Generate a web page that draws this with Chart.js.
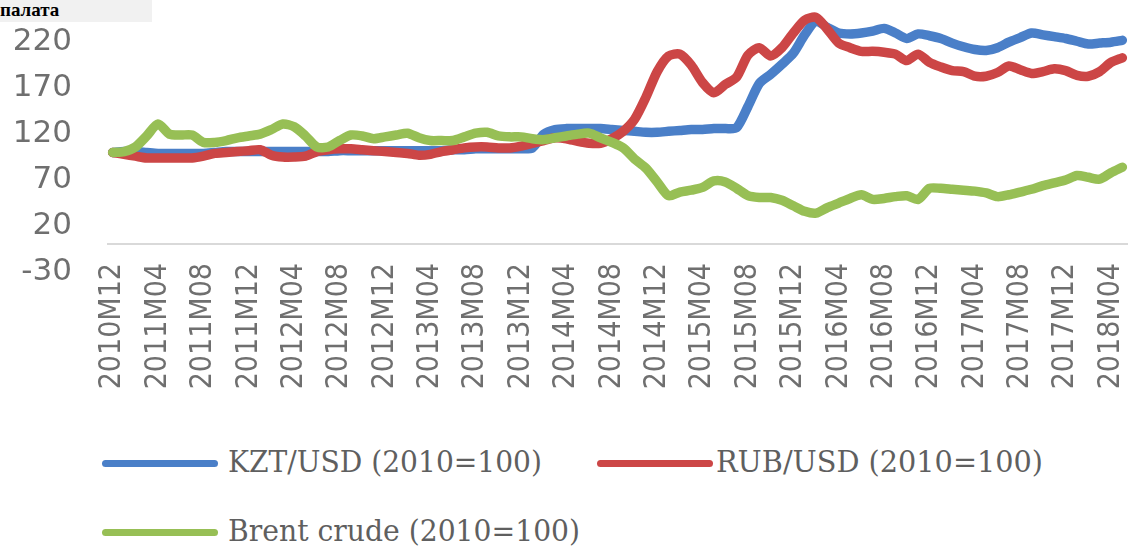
<!DOCTYPE html>
<html><head><meta charset="utf-8">
<script src="https://cdn.jsdelivr.net/npm/chart.js@4.4.0/dist/chart.umd.min.js"></script>
<style>
html,body{margin:0;padding:0;background:#fff;}
#wrap{position:relative;width:1128px;height:551px;overflow:hidden;background:#fff;}
#c{position:absolute;left:0;top:0;}
#hdr{position:absolute;left:0;top:0;width:152px;height:22px;background:#f1f1f1;font:bold 19px "Liberation Serif",serif;line-height:19px;color:#000;white-space:nowrap;overflow:hidden;}
.ln{position:absolute;height:7px;border-radius:4px;}
.tx{position:absolute;font:30px "DejaVu Serif Condensed","DejaVu Serif",serif;color:#5f5f5f;white-space:nowrap;transform-origin:0 50%;line-height:32px;}
</style></head>
<body>
<div id="wrap">
<canvas id="c" width="1128" height="420"></canvas>
<div id="hdr">палата</div>
<div id="legend"></div>
</div>
<script>
const categories = [
 "2010M12",
 "2011M01","2011M02","2011M03","2011M04","2011M05","2011M06","2011M07","2011M08","2011M09","2011M10","2011M11","2011M12",
 "2012M01","2012M02","2012M03","2012M04","2012M05","2012M06","2012M07","2012M08","2012M09","2012M10","2012M11","2012M12",
 "2013M01","2013M02","2013M03","2013M04","2013M05","2013M06","2013M07","2013M08","2013M09","2013M10","2013M11","2013M12",
 "2014M01","2014M02","2014M03","2014M04","2014M05","2014M06","2014M07","2014M08","2014M09","2014M10","2014M11","2014M12",
 "2015M01","2015M02","2015M03","2015M04","2015M05","2015M06","2015M07","2015M08","2015M09","2015M10","2015M11","2015M12",
 "2016M01","2016M02","2016M03","2016M04","2016M05","2016M06","2016M07","2016M08","2016M09","2016M10","2016M11","2016M12",
 "2017M01","2017M02","2017M03","2017M04","2017M05","2017M06","2017M07","2017M08","2017M09","2017M10","2017M11","2017M12",
 "2018M01","2018M02","2018M03","2018M04","2018M05"
];
const shownLabels = ["2010M12","2011M04","2011M08","2011M12","2012M04","2012M08","2012M12","2013M04","2013M08","2013M12",
 "2014M04","2014M08","2014M12","2015M04","2015M08","2015M12","2016M04","2016M08","2016M12","2017M04","2017M08","2017M12","2018M04"];
const yTicks = [-30, 20, 70, 120, 170, 220];

const kzt = [
 100,101,101,100,99,99,99,99,99,100,
 101,101,101,101,101,101,101,101,101,101,
 102,102,102,102,102,102,102,102,102,102,
 103,103,104,104,104,104,104,105,120,125,
 126,126,126,126,125,124,123,122,122,123,
 124,125,125,126,126,127,150,175,185,196,
 208,228,243,236,230,229,230,232,235,230,
 224,229,227,224,219,215,212,211,214,220,
 225,230,228,226,224,221,218,219,220,222
];
const rub = [
 100,98,96,94,94,94,94,94,96,99,
 100,101,102,103,97,95,95,96,101,103,
 104,104,103,102,101,100,99,97,98,101,
 103,105,106,106,105,105,107,110,113,116,
 115,112,110,110,115,123,136,160,188,205,
 207,195,176,165,174,182,206,214,205,214,
 230,244,247,234,219,214,210,210,209,207,
 200,207,198,193,189,188,183,183,187,194,
 190,186,188,191,189,184,183,188,198,203
];
const brent = [
 100,101,106,118,131,120,119,119,111,111,
 113,116,118,120,125,131,128,118,106,106,
 113,119,118,115,117,119,121,116,113,113,
 113,117,121,122,118,117,117,115,114,116,
 118,120,121,116,111,105,93,83,68,53,
 57,59,62,69,68,61,53,51,51,48,
 42,36,34,40,45,50,54,49,50,52,
 53,49,61,61,60,59,58,56,52,54,
 57,60,64,67,70,75,73,71,78,84
];
const seriesNames = ["KZT/USD (2010=100)", "RUB/USD (2010=100)", "Brent crude (2010=100)"];
const seriesColors = ["#4a7fc8", "#cc4646", "#97bf55"];

const mk = (label, data, color, order) => ({
  label, data, borderColor: color, backgroundColor: color, borderWidth: 9.5,
  pointRadius: 0, tension: 0.25, fill: false, order,
  borderJoinStyle: 'round', borderCapStyle: 'round'
});

const liftLabels = {
  id: 'liftLabels',
  afterLayout(chart) { const x = chart.scales.x; x.top = chart.chartArea.bottom - 9; }
};

new Chart(document.getElementById('c'), {
  type: 'line',
  data: {
    labels: categories,
    datasets: [
      mk(seriesNames[0], kzt, seriesColors[0], 3),
      mk(seriesNames[1], rub, seriesColors[1], 2),
      mk(seriesNames[2], brent, seriesColors[2], 1)
    ]
  },
  plugins: [liftLabels],
  options: {
    responsive: false, animation: false, devicePixelRatio: 1,
    layout: { padding: { top: 10, left: 0, right: 0, bottom: 0 } },
    plugins: { legend: { display: false }, tooltip: { enabled: false } },
    scales: {
      x: {
        type: 'category', offset: true,
        grid: { display: false, drawTicks: false },
        border: { display: false },
        ticks: {
          autoSkip: false, minRotation: 90, maxRotation: 90, padding: 0,
          color: '#6f6f6f',
          font: { family: '"DejaVu Sans Condensed","DejaVu Sans"', size: 30 },
          callback: function(v, i) { const l = categories[i]; return shownLabels.includes(l) ? l : ''; }
        },
        afterFit: s => { s.height = 148; s.paddingLeft = 0; s.paddingRight = 0; }
      },
      y: {
        min: -30, max: 255,
        afterBuildTicks: s => { s.ticks = [-30, 0].concat(yTicks.slice(1)).map(v => ({ value: v })); },
        grid: { drawTicks: false, lineWidth: 2,
          color: c => (c.tick && c.tick.value === 0) ? '#d9d9d9' : 'rgba(0,0,0,0)' },
        border: { display: false },
        ticks: {
          padding: 35, color: '#6f6f6f',
          font: { family: '"DejaVu Sans"', size: 31 },
          callback: v => yTicks.includes(v) ? String(v) : ''
        },
        afterFit: s => { s.width = 107; s.paddingTop = 0; s.paddingBottom = 0; }
      }
    }
  }
});

// HTML legend
const legendItems = [
  { i: 0, lineX: 102, textX: 228, y: 463, w: 314 },
  { i: 1, lineX: 597, textX: 716, y: 463, w: 327 },
  { i: 2, lineX: 102, textX: 228, y: 532, w: 352 }
];
const lg = document.getElementById('legend');
const mctx = document.createElement('canvas').getContext('2d');
mctx.font = '30px "DejaVu Serif Condensed","DejaVu Serif",serif';
legendItems.forEach(it => {
  const ln = document.createElement('div');
  ln.className = 'ln';
  ln.style.left = it.lineX + 'px'; ln.style.width = '116px';
  ln.style.top = (it.y - 3.5) + 'px'; ln.style.background = seriesColors[it.i];
  lg.appendChild(ln);
  const tx = document.createElement('div');
  tx.className = 'tx';
  tx.textContent = seriesNames[it.i];
  tx.style.left = it.textX + 'px'; tx.style.top = (it.y - 17) + 'px';
  const w = mctx.measureText(seriesNames[it.i]).width;
  tx.style.transform = 'scaleX(' + (it.w / w).toFixed(3) + ')';
  lg.appendChild(tx);
});
</script>
</body></html>
